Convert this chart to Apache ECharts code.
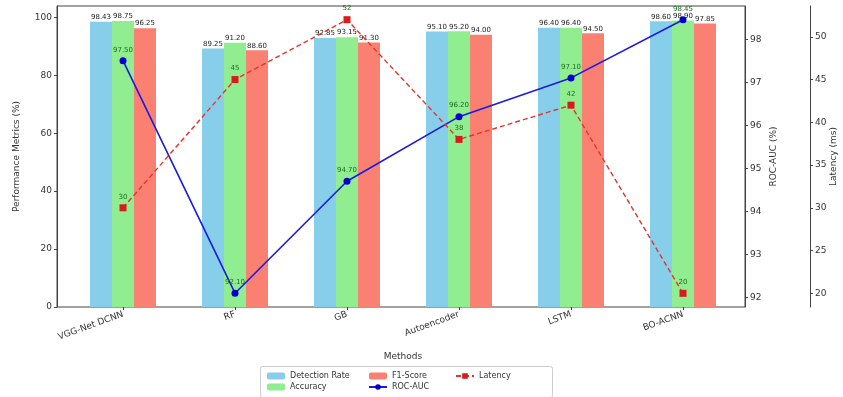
<!DOCTYPE html>
<html>
<head>
<meta charset="utf-8">
<script src="https://cdn.jsdelivr.net/npm/echarts@6/dist/echarts.min.js"></script>
<style>
  html, body { margin: 0; padding: 0; background: #fff; }
  #chart { width: 843px; height: 397px; }
</style>
</head>
<body>
<div id="chart"></div>
<script>
const methods = ['VGG-Net DCNN', 'RF', 'GB', 'Autoencoder', 'LSTM', 'BO-ACNN'];
const detectionRate = [98.43, 89.25, 92.85, 95.10, 96.40, 98.60];
const accuracy = [98.75, 91.20, 93.15, 95.20, 96.40, 98.90];
const f1Score = [96.25, 88.60, 91.30, 94.00, 94.50, 97.85];
const rocAuc = [97.50, 92.10, 94.70, 96.20, 97.10, 98.45];
const latency = [30, 45, 52, 38, 42, 20];

const chart = echarts.init(document.getElementById('chart'));
const font = 'DejaVu Sans';
const axisColor = '#444';

// 条形图标签
const barLabel = {
  show: true,
  position: 'top',
  distance: 1,
  fontSize: 7,
  fontFamily: font,
  color: '#222',
  formatter: p => p.value.toFixed(2)
};

function bar(name, data, color) {
  return {
    name,
    type: 'bar',
    data,
    barWidth: 22,
    barGap: '0%',
    itemStyle: { color },
    label: barLabel,
    z: 2
  };
}

const option = {
  backgroundColor: '#fff',
  textStyle: { fontFamily: font },
  animation: false,
  grid: [
    { left: 67, right: 104, top: 6, bottom: 90, outerBoundsMode: 'none' },
    { left: 57, right: 98, top: 6, bottom: 90, outerBoundsMode: 'none', show: true, borderColor: axisColor, borderWidth: 1, backgroundColor: 'transparent' }
  ],
  xAxis: [
    {
      type: 'category',
      gridIndex: 0,
      data: methods,
      axisLine: { show: false },
      axisTick: { show: true, alignWithLabel: true, length: 3, lineStyle: { color: axisColor } },
      axisLabel: { rotate: 20, fontSize: 9, color: '#333', margin: 7 },
      name: 'Methods',
      nameLocation: 'middle',
      nameGap: 45,
      nameMoveOverlap: false,
      nameTextStyle: { fontSize: 9, color: '#333' }
    },
    { type: 'value', gridIndex: 1, show: false }
  ],
  yAxis: [
    {
      type: 'value',
      gridIndex: 0,
      min: 0,
      max: 103.9,
      interval: 20,
      offset: 10,
      axisLine: { show: true, lineStyle: { color: axisColor } },
      axisTick: { show: true, length: 3, lineStyle: { color: axisColor } },
      axisLabel: { fontSize: 9, color: '#333', margin: 5, showMaxLabel: false },
      splitLine: { show: false },
      name: 'Performance Metrics (%)',
      nameLocation: 'middle',
      nameGap: 36,
      nameMoveOverlap: false,
      nameTextStyle: { fontSize: 9, color: '#333' }
    },
    {
      type: 'value',
      gridIndex: 0,
      position: 'right',
      min: 91.78,
      max: 98.77,
      splitNumber: 7,
      offset: 6,
      axisLine: { show: true, lineStyle: { color: axisColor } },
      axisTick: { show: true, length: 3, lineStyle: { color: axisColor } },
      axisLabel: { fontSize: 9, color: '#333', margin: 5, showMinLabel: false, showMaxLabel: false },
      splitLine: { show: false },
      name: 'ROC-AUC (%)',
      nameLocation: 'middle',
      nameGap: 24,
      nameRotate: 90,
      nameMoveOverlap: false,
      nameTextStyle: { fontSize: 9, color: '#333' }
    },
    {
      type: 'value',
      gridIndex: 0,
      position: 'right',
      min: 18.4,
      max: 53.6,
      splitNumber: 7,
      offset: 71,
      axisLine: { show: true, lineStyle: { color: axisColor } },
      axisTick: { show: true, length: 3, lineStyle: { color: axisColor } },
      axisLabel: { fontSize: 9, color: '#333', margin: 5, showMinLabel: false, showMaxLabel: false },
      splitLine: { show: false },
      name: 'Latency (ms)',
      nameLocation: 'middle',
      nameGap: 19,
      nameRotate: 90,
      nameMoveOverlap: false,
      nameTextStyle: { fontSize: 9, color: '#333' }
    },
    { type: 'value', gridIndex: 1, show: false }
  ],
  legend: [
    {
      left: 262, top: 367, orient: 'vertical', itemGap: 3,
      itemWidth: 18, itemHeight: 7,
      textStyle: { fontSize: 8, color: '#333' },
      data: ['Detection Rate', 'Accuracy']
    },
    {
      left: 363, top: 367, orient: 'vertical', itemGap: 3,
      itemWidth: 18, itemHeight: 7,
      textStyle: { fontSize: 8, color: '#333' },
      data: ['F1-Score', 'ROC-AUC']
    },
    {
      left: 450, top: 367, orient: 'vertical', itemGap: 3,
      itemWidth: 18, itemHeight: 7,
      textStyle: { fontSize: 8, color: '#333' },
      data: ['Latency']
    }
  ],
  graphic: [
    {
      type: 'rect',
      left: 258, top: 364,
      shape: { width: 292, height: 31, r: 2 },
      style: { fill: 'none', stroke: '#ccc', lineWidth: 1 }
    }
  ],
  series: [
    bar('Detection Rate', detectionRate, '#87CEEB'),
    bar('Accuracy', accuracy, '#90EE90'),
    bar('F1-Score', f1Score, '#FA8072'),
    {
      name: 'ROC-AUC',
      type: 'line',
      yAxisIndex: 1,
      data: rocAuc,
      symbol: 'circle',
      symbolSize: 7,
      lineStyle: { color: '#1a1ae0', width: 1.6 },
      itemStyle: { color: '#0000cc' },
      label: {
        show: true, position: 'top', distance: 4, fontSize: 7, color: '#1e6b1e',
        formatter: p => p.value.toFixed(2)
      },
      z: 5
    },
    {
      name: 'Latency',
      type: 'line',
      yAxisIndex: 2,
      data: latency,
      symbol: 'rect',
      symbolSize: 7,
      lineStyle: { color: '#e8332a', width: 1.4, type: [5, 3] },
      itemStyle: { color: '#d81b1b' },
      label: { show: true, position: 'top', distance: 4, fontSize: 7, color: '#1e6b1e' },
      z: 6
    }
  ]
};

chart.setOption(option);
</script>
</body>
</html>
